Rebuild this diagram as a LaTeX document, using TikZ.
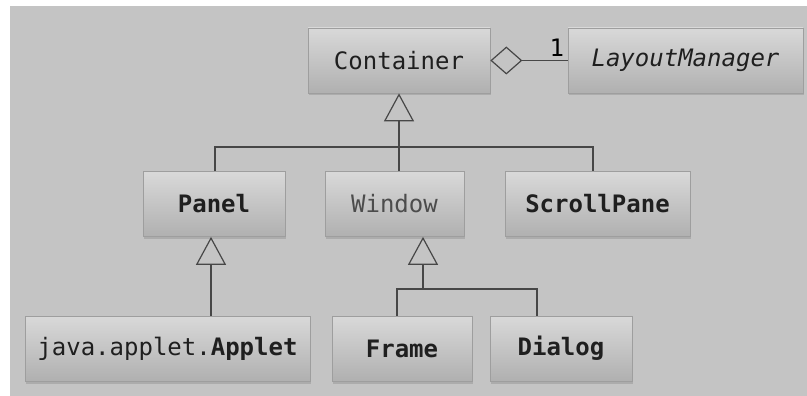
\documentclass[tikz,border=0pt]{standalone}
\usepackage{fontspec}
\setmonofont{DejaVu Sans Mono}
\usepackage{tikz}
\usetikzlibrary{arrows.meta, shapes, positioning, shadows, calc}
\definecolor{bggray}{HTML}{C4C4C4}

\begin{document}
\begin{tikzpicture}[x=1pt, y=-1pt,
    cls/.style={draw=black!38, line width=0.7pt, top color=black!15, bottom color=black!31,
        minimum height=65pt, inner sep=0pt, text=black!88,
        font=\fontsize{24}{28}\selectfont\ttfamily,
        drop shadow={opacity=0.35, shadow xshift=0.5pt, shadow yshift=-2.5pt}},
    gen/.style={line width=1.2pt, draw=black!72, -{Triangle[open, length=28pt, width=30pt, line width=1.2pt]}},
    link/.style={line width=1.2pt, draw=black!72}]
\useasboundingbox (0, 0) rectangle (807, 396);
\fill[white] (0, 0) rectangle (807, 396);
\fill[bggray] (10, 6) rectangle (807, 396);
\node[cls, minimum width=182pt] (container) at (399, 60.5) {Container};
\node[cls, minimum width=235pt] (layout) at (685.5, 60.5) {\itshape LayoutManager};
\node[cls, minimum width=142pt] (panel) at (214, 204) {\bfseries Panel};
\node[cls, minimum width=139pt, text=black!70] (window) at (394.5, 204) {Window};
\node[cls, minimum width=185pt] (scroll) at (597.5, 204) {\bfseries ScrollPane};
\node[cls, minimum width=285pt] (applet) at (167.5, 348.5) {java.applet.\textbf{Applet}};
\node[cls, minimum width=140pt] (frame) at (402, 348.5) {\bfseries Frame};
\node[cls, minimum width=142pt] (dialog) at (561, 348.5) {\bfseries Dialog};
\coordinate (topbar) at (399, 147);
\coordinate (winbar) at (423, 289);
\draw[link, {Diamond[open, length=32pt, width=28pt, line width=1.2pt]}-] (container.east) -- (layout.west)
    node [pos=0.86, above=0pt, font=\fontsize{24}{28}\selectfont\ttfamily] {1};
\draw[gen] (topbar) -- (topbar |- container.south);
\draw[link] (panel.north -| 215, 0) |- (topbar) -| (scroll.north -| 593, 0);
\draw[link] (topbar) -- (topbar |- window.north);
\draw[gen] (applet.north -| 211, 0) -- (panel.south -| 211, 0);
\draw[gen] (winbar) -- (winbar |- window.south);
\draw[link] (frame.north -| 397, 0) |- (winbar) -| (dialog.north -| 537, 0);
\end{tikzpicture}
\end{document}
